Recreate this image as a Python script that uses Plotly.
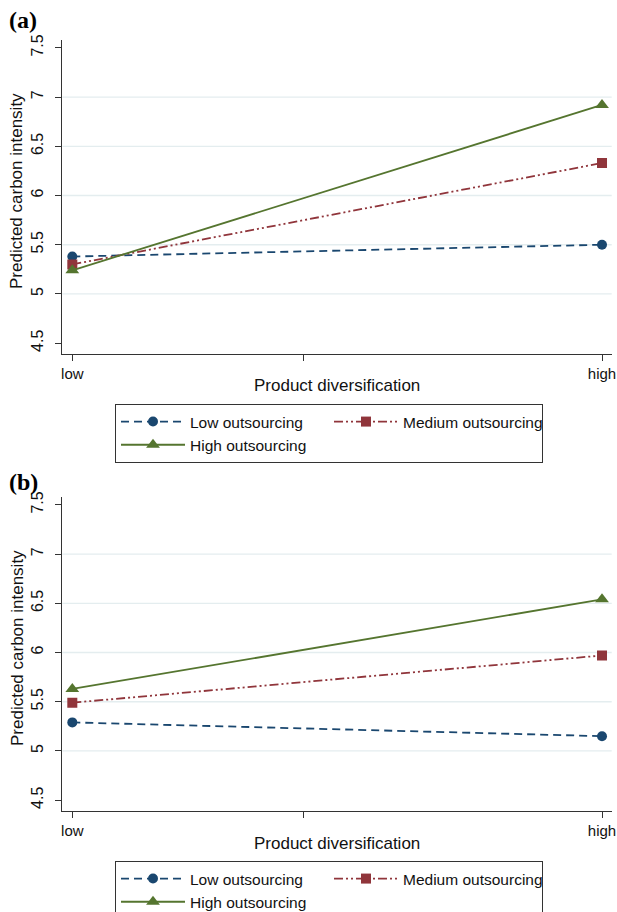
import plotly.graph_objects as go

# ---------------- data ----------------
X_LABELS = ["low", "high"]
X_POS = [0, 1]
X_MID_TICK = 0.4365
Y_TICKS = [4.5, 5, 5.5, 6, 6.5, 7, 7.5]
Y_TICK_TEXT = ["4.5", "5", "5.5", "6", "6.5", "7", "7.5"]
GRID_Y = [5, 5.5, 6, 6.5, 7]
SERIES = ["Low outsourcing", "Medium outsourcing", "High outsourcing"]

A_LOW = [5.38, 5.50]
A_MED = [5.30, 6.33]
A_HIGH = [5.24, 6.92]

B_LOW = [5.29, 5.15]
B_MED = [5.49, 5.97]
B_HIGH = [5.63, 6.54]

PANEL_LABELS = ["(a)", "(b)"]
X_TITLE = "Product diversification"
Y_TITLE = "Predicted carbon intensity"

# ---------------- style ----------------
W, H = 617, 912
FONT = "Arial, Liberation Sans, sans-serif"
AXC = "#333333"
GRIDC = "#e4edef"
COLORS = ["#1a476f", "#90353b", "#55752f"]
DASHES = ["8px,5px", "9px,3px,2px,3px,2px,3px", "solid"]
SYMBOLS = ["circle", "square", "triangle-up"]
MSIZE = [10, 10, 12]


def px(x):
    return x / W


def py(y):
    return 1 - y / H


XDOM = [px(62.3), px(611.7)]
YDOM_A = [py(354), py(40)]
YDOM_B = [py(811), py(497)]

fig = go.Figure()

panels = [
    ("x", "y", "legend", [A_LOW, A_MED, A_HIGH]),
    ("x2", "y2", "legend2", [B_LOW, B_MED, B_HIGH]),
]
for xa, ya, lg, vals in panels:
    for i, name in enumerate(SERIES):
        fig.add_trace(go.Scatter(
            x=X_POS, y=vals[i], name=name, mode="lines+markers",
            xaxis=xa, yaxis=ya, legend=lg,
            line=dict(color=COLORS[i], width=1.8, dash=DASHES[i]),
            marker=dict(color=COLORS[i], symbol=SYMBOLS[i], size=MSIZE[i]),
            hovertemplate="%{y:.2f}<extra>" + name + "</extra>",
        ))

xaxis_common = dict(
    domain=XDOM, range=[-0.0189, 1.0183],
    tickmode="array", tickvals=[X_POS[0], X_MID_TICK, X_POS[1]],
    ticktext=[X_LABELS[0], "", X_LABELS[1]],
    ticks="outside", ticklen=6, tickwidth=1.2, tickcolor=AXC,
    showline=True, linecolor=AXC, linewidth=1.3,
    showgrid=False, zeroline=False,
    ticklabeloverflow="allow",
    tickfont=dict(family=FONT, size=15, color="#111"),
)
yaxis_common = dict(
    range=[4.39, 7.58],
    tickmode="array", tickvals=Y_TICKS, ticktext=Y_TICK_TEXT,
    tickangle=-90,
    ticks="outside", ticklen=6, tickwidth=1.2, tickcolor=AXC,
    showline=True, linecolor=AXC, linewidth=1.3,
    showgrid=False, zeroline=False,
    ticklabelstandoff=6,
    tickfont=dict(family=FONT, size=16, color="#111"),
)

legend_common = dict(
    orientation="h", xanchor="left", yanchor="top",
    entrywidth=134, entrywidthmode="pixels", itemwidth=64,
    bordercolor=AXC, borderwidth=1, bgcolor="white",
    font=dict(family=FONT, size=15.5, color="#111"),
    traceorder="normal", tracegroupgap=0,
)

shapes = []
for yref, xref in [("y", "x"), ("y2", "x2")]:
    for g in GRID_Y:
        shapes.append(dict(
            type="line", xref=xref + " domain", yref=yref,
            x0=0, x1=1, y0=g, y1=g, layer="below",
            line=dict(color=GRIDC, width=1.3),
        ))

annotations = []
for lab, ytop, ycen, xtitle_y in [
    (PANEL_LABELS[0], 20, 191, 385),
    (PANEL_LABELS[1], 482, 648, 843),
]:
    annotations.append(dict(
        text="<b>" + lab + "</b>", x=px(23), y=py(ytop), xref="paper", yref="paper",
        showarrow=False, xanchor="center", yanchor="middle",
        font=dict(family="Liberation Serif, Times New Roman, serif", size=24, color="#000"),
    ))
    annotations.append(dict(
        text=Y_TITLE, x=px(17), y=py(ycen), xref="paper", yref="paper",
        showarrow=False, xanchor="center", yanchor="middle", textangle=-90,
        font=dict(family=FONT, size=17, color="#111"),
    ))
    annotations.append(dict(
        text=X_TITLE, x=(XDOM[0] + XDOM[1]) / 2, y=py(xtitle_y), xref="paper", yref="paper",
        showarrow=False, xanchor="center", yanchor="middle",
        font=dict(family=FONT, size=17, color="#111"),
    ))

fig.update_layout(
    width=W, height=H,
    margin=dict(l=0, r=0, t=0, b=0, autoexpand=False),
    paper_bgcolor="white", plot_bgcolor="white",
    showlegend=True,
    xaxis=dict(xaxis_common, anchor="y"),
    yaxis=dict(yaxis_common, domain=YDOM_A, anchor="x"),
    xaxis2=dict(xaxis_common, anchor="y2"),
    yaxis2=dict(yaxis_common, domain=YDOM_B, anchor="x2"),
    legend=dict(legend_common, x=px(115), y=py(404)),
    legend2=dict(legend_common, x=px(115), y=py(861)),
    shapes=shapes,
    annotations=annotations,
    font=dict(family=FONT),
)

# remove the page's default body margin so the figure fills the window exactly
POST_JS = (
    "document.body.style.margin='0';"
    "document.body.style.overflow='hidden';"
    "document.documentElement.style.overflow='hidden';"
)
fig.write_html("out.html", post_script=POST_JS, config={"displayModeBar": False})
